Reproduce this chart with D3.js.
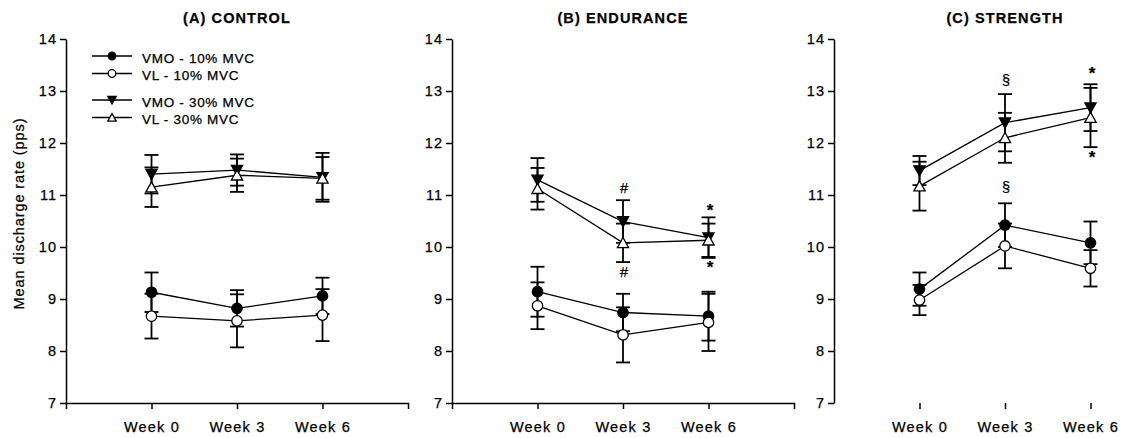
<!DOCTYPE html>
<html>
<head>
<meta charset="utf-8">
<script src="https://cdn.jsdelivr.net/npm/d3@7/dist/d3.min.js"></script>
<style>
  html, body { margin: 0; padding: 0; background: #fff; }
  svg { display: block; }
  text { font-family: "Liberation Sans", Arial, sans-serif; fill: #000; stroke: #000; stroke-width: 0.25px; }
</style>
</head>
<body>
<svg id="chart" width="1125" height="438"></svg>
<script>
// Time points and axis ticks
const weeks = ["Week 0", "Week 3", "Week 6"];
const yTicks = [7, 8, 9, 10, 11, 12, 13, 14];
const panelTitles = ["(A) CONTROL", "(B) ENDURANCE", "(C) STRENGTH"];
const seriesNames = ["VMO - 10% MVC", "VL - 10% MVC", "VMO - 30% MVC", "VL - 30% MVC"];

// Mean discharge rate (pps) and error, per group and muscle/contraction level
const controlVMO10 = [9.13, 8.82, 9.06];
const controlVMO10Err = [0.38, 0.35, 0.35];
const controlVL10 = [8.67, 8.58, 8.69];
const controlVL10Err = [0.43, 0.51, 0.50];
const controlVMO30 = [11.40, 11.48, 11.34];
const controlVMO30Err = [0.37, 0.30, 0.47];
const controlVL30 = [11.15, 11.38, 11.32];
const controlVL30Err = [0.38, 0.32, 0.41];

const enduranceVMO10 = [9.14, 8.74, 8.67];
const enduranceVMO10Err = [0.48, 0.36, 0.47];
const enduranceVL10 = [8.87, 8.31, 8.55];
const enduranceVL10Err = [0.45, 0.53, 0.55];
const enduranceVMO30 = [11.29, 10.49, 10.18];
const enduranceVMO30Err = [0.42, 0.41, 0.39];
const enduranceVL30 = [11.12, 10.08, 10.13];
const enduranceVL30Err = [0.40, 0.37, 0.32];

const strengthVMO10 = [9.19, 10.42, 10.08];
const strengthVMO10Err = [0.32, 0.42, 0.41];
const strengthVL10 = [8.98, 10.02, 9.59];
const strengthVL10Err = [0.29, 0.43, 0.35];
const strengthVMO30 = [11.47, 12.39, 12.68];
const strengthVMO30Err = [0.28, 0.55, 0.45];
const strengthVL30 = [11.17, 12.10, 12.49];
const strengthVL30Err = [0.47, 0.48, 0.57];

// Significance symbols: panel index, week index, baseline level (pps), symbol
const sigPanel = [1, 1, 1, 1, 2, 2, 2, 2];
const sigWeek = [1, 1, 2, 2, 1, 1, 2, 2];
const sigLevel = [11.04, 9.42, 10.60, 9.50, 13.12, 11.06, 13.23, 11.62];
const sigSymbol = ["#", "#", "*", "*", "\u00A7", "\u00A7", "*", "*"];

// Assemble panels from the arrays above
const groups = [
  { means: [controlVMO10, controlVL10, controlVMO30, controlVL30],
    errs: [controlVMO10Err, controlVL10Err, controlVMO30Err, controlVL30Err] },
  { means: [enduranceVMO10, enduranceVL10, enduranceVMO30, enduranceVL30],
    errs: [enduranceVMO10Err, enduranceVL10Err, enduranceVMO30Err, enduranceVL30Err] },
  { means: [strengthVMO10, strengthVL10, strengthVMO30, strengthVL30],
    errs: [strengthVMO10Err, strengthVL10Err, strengthVMO30Err, strengthVL30Err] }
];

// Marker styles per series: filled circle, open circle, filled down-triangle, open up-triangle
const markerShape = ["circle", "circle", "down", "up"];
const markerFill = ["#000", "#fff", "#000", "#fff"];

const svg = d3.select("#chart");
svg.append("rect").attr("width", 1125).attr("height", 438).attr("fill", "#fff");

const panelLeft = [66, 452, 834];
const step = 85.5;
const plotTop = 39, plotBottom = 403;

function markerPath(shape, s) {
  if (shape === "down") return `M${-s},${-s * 0.85}L${s},${-s * 0.85}L0,${s * 0.95}Z`;
  return `M${-s},${s * 0.85}L${s},${s * 0.85}L0,${-s * 0.95}Z`;
}

function drawMarker(g, shape, fill, x, y, size) {
  if (shape === "circle") {
    g.append("circle").attr("cx", x).attr("cy", y).attr("r", size)
      .attr("fill", fill).attr("stroke", "#000").attr("stroke-width", 1.3);
  } else {
    g.append("path").attr("transform", `translate(${x},${y})`)
      .attr("d", markerPath(shape, size + 0.4))
      .attr("fill", fill).attr("stroke", "#000").attr("stroke-width", 1.3)
      .attr("stroke-linejoin", "miter");
  }
}

groups.forEach((grp, p) => {
  const left = panelLeft[p];
  const x = d3.scaleLinear().domain([-1, 3]).range([left, left + 4 * step]);
  const y = d3.scaleLinear().domain([7, 14]).range([plotBottom, plotTop]);
  const g = svg.append("g");

  // Y axis
  const yAxis = d3.axisLeft(y).tickValues(yTicks).tickFormat(d3.format("d"))
    .tickSize(6).tickSizeOuter(0).tickPadding(5);
  const ya = g.append("g").attr("transform", `translate(${left},0)`).call(yAxis);
  ya.select(".domain").attr("stroke", "#000").attr("stroke-width", 1.5);
  ya.selectAll(".tick line").attr("stroke", "#000").attr("stroke-width", 1.5);
  ya.selectAll(".tick text").attr("font-size", 14.5).attr("letter-spacing", "1px")
    .attr("x", -9).attr("font-family", null);

  // X axis (category ticks at weeks)
  const xAxis = d3.axisBottom(x).tickValues([0, 1, 2]).tickFormat(i => weeks[i])
    .tickSize(6).tickSizeOuter(6).tickPadding(13);
  const xa = g.append("g").attr("transform", `translate(0,${plotBottom})`).call(xAxis);
  xa.select(".domain").attr("stroke", p === 2 ? "none" : "#000").attr("stroke-width", 1.5);
  xa.selectAll(".tick line").attr("stroke", "#000").attr("stroke-width", 1.5);
  xa.selectAll(".tick text").attr("font-size", 14.5).attr("letter-spacing", "1.2px")
    .attr("font-family", null);
  g.selectAll(".tick text").attr("fill", "#000");

  // Title
  g.append("text").attr("x", x(1)).attr("y", 23).attr("text-anchor", "middle")
    .attr("font-size", 14.5).attr("font-weight", "bold").attr("letter-spacing", "1.1px")
    .text(panelTitles[p]);

  // Error bars
  grp.means.forEach((m, s) => {
    m.forEach((v, i) => {
      const e = grp.errs[s][i];
      const cx = x(i);
      g.append("line").attr("x1", cx).attr("x2", cx).attr("y1", y(v - e)).attr("y2", y(v + e))
        .attr("stroke", "#000").attr("stroke-width", 1.8);
      [v - e, v + e].forEach(t => {
        g.append("line").attr("x1", cx - 7).attr("x2", cx + 7).attr("y1", y(t)).attr("y2", y(t))
          .attr("stroke", "#000").attr("stroke-width", 1.8);
      });
    });
  });

  // Connecting lines
  const line = d3.line().x((d, i) => x(i)).y(d => y(d));
  grp.means.forEach(m => {
    g.append("path").attr("d", line(m)).attr("fill", "none")
      .attr("stroke", "#000").attr("stroke-width", 1.3);
  });

  // Markers
  grp.means.forEach((m, s) => {
    m.forEach((v, i) => drawMarker(g, markerShape[s], markerFill[s], x(i), y(v), 5.2));
  });

  // Significance symbols
  sigPanel.forEach((sp, k) => {
    if (sp !== p) return;
    const star = sigSymbol[k] === "*";
    g.append("text").attr("x", x(sigWeek[k]) + (star ? 1.5 : 1))
      .attr("y", y(sigLevel[k])).attr("text-anchor", "middle")
      .attr("font-size", star ? 17 : 14.5).attr("font-weight", star ? "bold" : null)
      .text(sigSymbol[k]);
  });
});

// Y axis title
svg.append("text").attr("transform", "translate(24,213.5) rotate(-90)")
  .attr("text-anchor", "middle").attr("font-size", 14.5).attr("letter-spacing", "0.9px")
  .text("Mean discharge rate (pps)");

// Legend
const legendRows = [56, 73.5, 100, 117.5];
const legend = svg.append("g");
seriesNames.forEach((name, s) => {
  const ly = legendRows[s];
  legend.append("line").attr("x1", 92).attr("x2", 132).attr("y1", ly).attr("y2", ly)
    .attr("stroke", "#000").attr("stroke-width", 1.5);
  drawMarker(legend, markerShape[s], markerFill[s], 112, ly, 3.8);
  legend.append("text").attr("x", 142).attr("y", ly + 6.5).attr("font-size", 13.5)
    .attr("letter-spacing", "0.7px").text(name);
});
</script>
</body>
</html>
